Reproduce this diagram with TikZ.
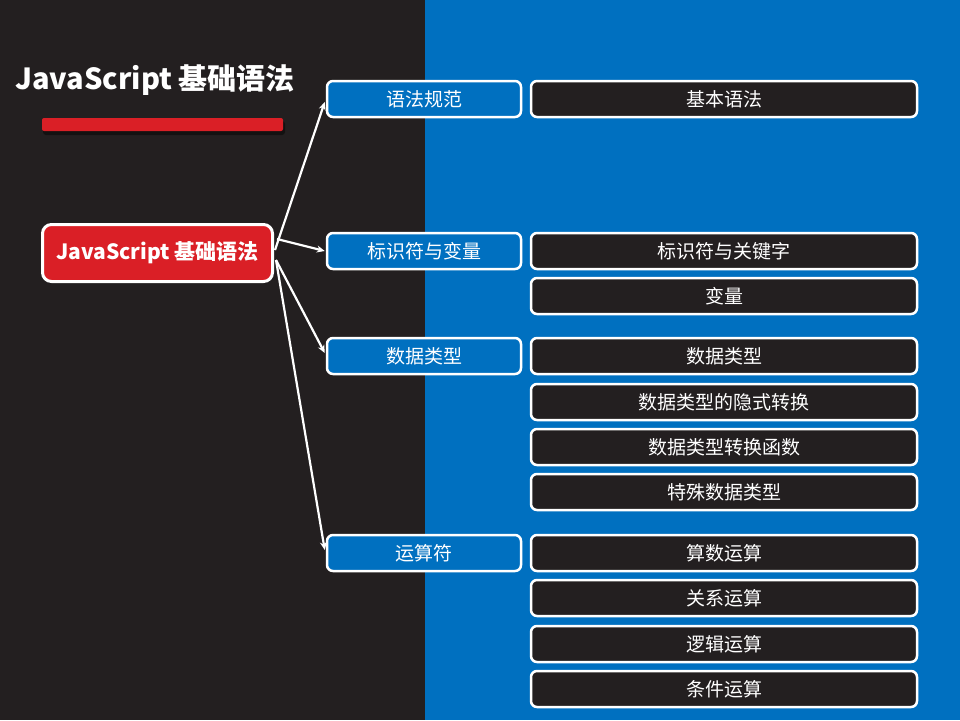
\documentclass[tikz,border=0pt]{standalone}
\usepackage{fontspec}
\setmainfont{Noto Sans CJK SC}
\usetikzlibrary{arrows.meta,calc,shadows}
\definecolor{darkbg}{HTML}{231F20}
\definecolor{bluebg}{HTML}{0070C0}
\definecolor{redc}{HTML}{DA1F26}
\tikzset{
  catbox/.style={draw=white,line width=2.5pt,fill=bluebg,rounded corners=6pt,
    minimum width=194pt,minimum height=36pt,inner sep=0pt,text=white,
    font=\fontsize{19}{19}\selectfont},
  leafbox/.style={draw=white,line width=2.5pt,fill=darkbg,rounded corners=6pt,
    minimum width=386pt,minimum height=36pt,inner sep=0pt,text=white,
    font=\fontsize{19}{19}\selectfont},
  rootbox/.style={draw=white,line width=3pt,fill=redc,rounded corners=9pt,
    minimum width=230pt,minimum height=57pt,inner sep=0pt,text=white,
    font=\bfseries\fontsize{21}{21}\selectfont},
  conn/.style={draw=white,line width=2.2pt,-{Stealth[length=8pt,width=7pt]}},
}
\begin{document}
\begin{tikzpicture}[x=1pt,y=-1pt]
\useasboundingbox (0,0) rectangle (960,720);
\fill[darkbg] (0,0) rectangle (425,720);
\fill[bluebg] (425,0) rectangle (960,720);
% title
\node[text=white,font=\bfseries\fontsize{29}{29}\selectfont,inner sep=0pt] (title) at (155,80) {JavaScript 基础语法};
\fill[black,opacity=0.45,rounded corners=3pt] (43,121) rectangle (285,135);
\fill[redc,rounded corners=2pt] (42,118) rectangle (283,131);
% root
\node[rootbox] (root) at (157.5,253) {JavaScript 基础语法};
% categories
\node[catbox] (c1) at (424,99) {语法规范};
\node[catbox] (c2) at (424,251) {标识符与变量};
\node[catbox] (c3) at (424,356) {数据类型};
\node[catbox] (c4) at (424,553) {运算符};
% leaves
\node[leafbox] (l1) at (724,99) {基本语法};
\node[leafbox] (l2) at (724,251) {标识符与关键字};
\node[leafbox] (l3) at (724,296) {变量};
\node[leafbox] (l4) at (724,356) {数据类型};
\node[leafbox] (l5) at (724,402) {数据类型的隐式转换};
\node[leafbox] (l6) at (724,447) {数据类型转换函数};
\node[leafbox] (l7) at (724,492) {特殊数据类型};
\node[leafbox] (l8) at (724,553) {算数运算};
\node[leafbox] (l9) at (724,598) {关系运算};
\node[leafbox] (l10) at (724,644) {逻辑运算};
\node[leafbox] (l11) at (724,689) {条件运算};
% connectors
\draw[conn] ($(root.east)+(1,-3)$) -- ($(c1.west)+(-1,3)$);
\draw[conn] ($(root.east)+(3,-14)$) -- ($(c2.west)+(-1,0)$);
\draw[conn] ($(root.east)+(2,7)$) -- ($(c3.west)+(-1,-3)$);
\draw[conn] ($(root.east)+(2,7)$) -- ($(c4.west)+(-1,-3)$);
\end{tikzpicture}
\end{document}
